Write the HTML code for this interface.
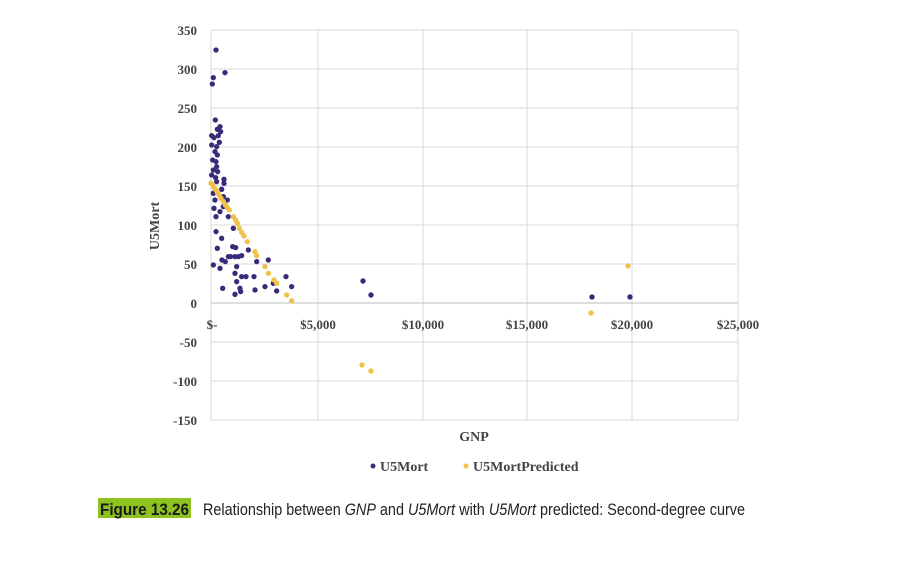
<!DOCTYPE html>
<html><head><meta charset="utf-8"><style>
html,body{margin:0;padding:0;background:#fff;}
</style></head><body>
<svg width="902" height="562" viewBox="0 0 902 562" xmlns="http://www.w3.org/2000/svg">
<rect width="902" height="562" fill="#fff"/>
<g stroke="#d9d9d9" stroke-width="1">
<line x1="211" y1="30" x2="738" y2="30"/>
<line x1="211" y1="69" x2="738" y2="69"/>
<line x1="211" y1="108" x2="738" y2="108"/>
<line x1="211" y1="147" x2="738" y2="147"/>
<line x1="211" y1="186" x2="738" y2="186"/>
<line x1="211" y1="225" x2="738" y2="225"/>
<line x1="211" y1="264" x2="738" y2="264"/>
<line x1="211" y1="342" x2="738" y2="342"/>
<line x1="211" y1="381" x2="738" y2="381"/>
<line x1="211" y1="420" x2="738" y2="420"/>
<line x1="318" y1="30" x2="318" y2="420"/>
<line x1="423" y1="30" x2="423" y2="420"/>
<line x1="527" y1="30" x2="527" y2="420"/>
<line x1="632" y1="30" x2="632" y2="420"/>
<line x1="738" y1="30" x2="738" y2="420"/>
<line x1="211" y1="30" x2="211" y2="420"/>
</g>
<line x1="211" y1="303" x2="738" y2="303" stroke="#bfbfbf" stroke-width="1"/>
<g font-family="Liberation Serif, serif" font-weight="bold" font-size="13" fill="#444" text-anchor="end">
<text x="197" y="35">350</text><text x="197" y="74">300</text><text x="197" y="113">250</text>
<text x="197" y="152">200</text><text x="197" y="191">150</text><text x="197" y="230">100</text>
<text x="197" y="269">50</text><text x="197" y="308">0</text><text x="197" y="347">-50</text>
<text x="197" y="386">-100</text><text x="197" y="425">-150</text>
</g>
<g font-family="Liberation Serif, serif" font-weight="bold" font-size="13" fill="#444" text-anchor="middle">
<text x="212" y="329">$-</text><text x="318" y="329">$5,000</text><text x="423" y="329">$10,000</text>
<text x="527" y="329">$15,000</text><text x="632" y="329">$20,000</text><text x="738" y="329">$25,000</text>
</g>
<text x="474" y="441" font-family="Liberation Serif, serif" font-weight="bold" font-size="14" fill="#444" text-anchor="middle">GNP</text>
<text transform="translate(159,226) rotate(-90)" font-family="Liberation Serif, serif" font-weight="bold" font-size="14" fill="#444" text-anchor="middle">U5Mort</text>
<g transform="translate(140,15) scale(0.3333)" fill="#3b2a7a">
<circle cx="228" cy="105" r="8"/><circle cx="255" cy="173" r="8"/><circle cx="220" cy="188" r="8"/><circle cx="217" cy="207" r="8"/>
<circle cx="226" cy="315" r="8"/><circle cx="240" cy="335" r="8"/><circle cx="242" cy="350" r="8"/><circle cx="232" cy="343" r="8"/>
<circle cx="215" cy="362" r="8"/><circle cx="222" cy="368" r="8"/><circle cx="235" cy="362" r="8"/><circle cx="238" cy="382" r="8"/>
<circle cx="215" cy="390" r="8"/><circle cx="230" cy="395" r="8"/><circle cx="225" cy="410" r="8"/><circle cx="232" cy="420" r="8"/>
<circle cx="228" cy="440" r="8"/><circle cx="230" cy="455" r="8"/><circle cx="220" cy="465" r="8"/><circle cx="233" cy="470" r="8"/>
<circle cx="215" cy="480" r="8"/><circle cx="227" cy="488" r="8"/><circle cx="252" cy="493" r="8"/><circle cx="252" cy="505" r="8"/>
<circle cx="245" cy="523" r="8"/><circle cx="220" cy="535" r="8"/><circle cx="225" cy="555" r="8"/><circle cx="250" cy="575" r="8"/>
<circle cx="222" cy="580" r="8"/><circle cx="240" cy="590" r="8"/><circle cx="265" cy="605" r="8"/><circle cx="228" cy="605" r="8"/>
<circle cx="280" cy="640" r="8"/><circle cx="228" cy="650" r="8"/><circle cx="245" cy="670" r="8"/><circle cx="232" cy="700" r="8"/>
<circle cx="278" cy="695" r="8"/><circle cx="287" cy="698" r="8"/><circle cx="246" cy="735" r="8"/><circle cx="256" cy="740" r="8"/>
<circle cx="265" cy="725" r="8"/><circle cx="272" cy="725" r="8"/><circle cx="285" cy="725" r="8"/><circle cx="295" cy="725" r="8"/>
<circle cx="305" cy="722" r="8"/><circle cx="325" cy="705" r="8"/><circle cx="220" cy="750" r="8"/><circle cx="240" cy="760" r="8"/>
<circle cx="290" cy="755" r="8"/><circle cx="350" cy="740" r="8"/><circle cx="385" cy="735" r="8"/><circle cx="285" cy="775" r="8"/>
<circle cx="305" cy="785" r="8"/><circle cx="318" cy="785" r="8"/><circle cx="342" cy="785" r="8"/><circle cx="248" cy="820" r="8"/>
<circle cx="290" cy="800" r="8"/><circle cx="300" cy="820" r="8"/><circle cx="302" cy="830" r="8"/><circle cx="285" cy="838" r="8"/>
<circle cx="345" cy="825" r="8"/><circle cx="375" cy="815" r="8"/><circle cx="410" cy="828" r="8"/><circle cx="438" cy="785" r="8"/>
<circle cx="455" cy="815" r="8"/><circle cx="400" cy="805" r="8"/><circle cx="250" cy="545" r="8"/><circle cx="262" cy="555" r="8"/>
<circle cx="230" cy="500" r="8"/><circle cx="218" cy="435" r="8"/>
</g>
<g transform="translate(140,15) scale(0.3333)" fill="#f0c24a">
<circle cx="213" cy="505" r="8"/><circle cx="218" cy="510" r="8"/><circle cx="222" cy="518" r="8"/><circle cx="228" cy="525" r="8"/>
<circle cx="232" cy="533" r="8"/><circle cx="238" cy="540" r="8"/><circle cx="243" cy="550" r="8"/><circle cx="250" cy="560" r="8"/>
<circle cx="256" cy="570" r="8"/><circle cx="262" cy="578" r="8"/><circle cx="268" cy="585" r="8"/><circle cx="280" cy="605" r="8"/>
<circle cx="287" cy="615" r="8"/><circle cx="292" cy="625" r="8"/><circle cx="298" cy="640" r="8"/><circle cx="305" cy="652" r="8"/>
<circle cx="312" cy="663" r="8"/><circle cx="322" cy="680" r="8"/><circle cx="345" cy="710" r="8"/><circle cx="350" cy="722" r="8"/>
<circle cx="375" cy="755" r="8"/><circle cx="385" cy="775" r="8"/><circle cx="402" cy="795" r="8"/><circle cx="410" cy="805" r="8"/>
<circle cx="440" cy="840" r="8"/><circle cx="455" cy="858" r="8"/>
</g>
<g fill="#3b2a7a">
<circle cx="363" cy="281" r="2.7"/><circle cx="371" cy="295" r="2.7"/><circle cx="592" cy="297" r="2.7"/><circle cx="630" cy="297" r="2.7"/>
</g>
<g fill="#f0c24a">
<circle cx="362" cy="365" r="2.7"/><circle cx="371" cy="371" r="2.7"/><circle cx="591" cy="313" r="2.7"/><circle cx="628" cy="266" r="2.7"/>
</g>
<circle cx="373" cy="466" r="2.5" fill="#3b2a7a"/>
<circle cx="466" cy="466" r="2.5" fill="#f0c24a"/>
<g font-family="Liberation Serif, serif" font-weight="bold" font-size="14" fill="#444">
<text x="380" y="471">U5Mort</text>
<text x="473" y="471">U5MortPredicted</text>
</g>
<rect x="98" y="498" width="93" height="20" fill="#8dc21f"/>
<text x="100" y="515" font-family="Liberation Sans, sans-serif" font-weight="bold" font-size="17" fill="#1a1a1a" textLength="89" lengthAdjust="spacingAndGlyphs">Figure 13.26</text>
<text x="203" y="515" font-family="Liberation Sans, sans-serif" font-size="17" fill="#222" textLength="542" lengthAdjust="spacingAndGlyphs">Relationship between <tspan font-style="italic">GNP</tspan> and <tspan font-style="italic">U5Mort</tspan> with <tspan font-style="italic">U5Mort</tspan> predicted: Second-degree curve</text>
</svg>
</body></html>
